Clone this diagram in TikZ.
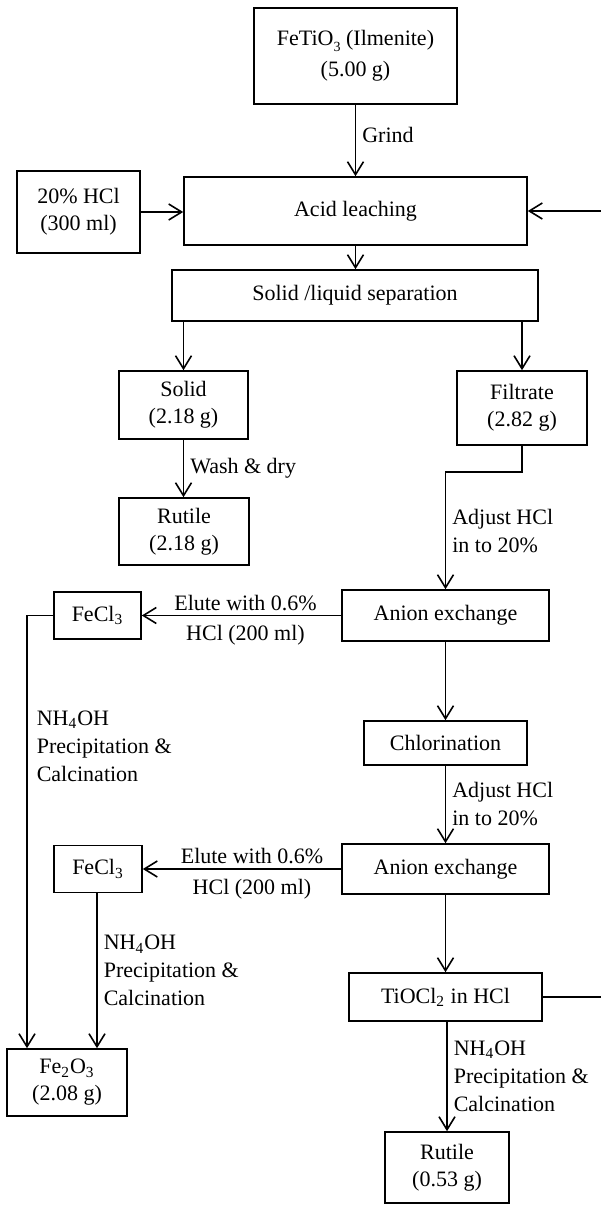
\documentclass[tikz,border=0pt]{standalone}
\usepackage{fontspec}
\setmainfont{Liberation Serif}
\usetikzlibrary{arrows.meta,positioning,calc}

\tikzset{
    procbox/.style 2 args={draw, line width=0.8pt, inner sep=0pt, align=center,
        minimum width=#1, minimum height=#2, font=\fontsize{11pt}{13.5pt}\selectfont},
    note/.style={inner sep=3pt, align=left, font=\fontsize{11pt}{14pt}\selectfont},
}

\begin{document}
\begin{tikzpicture}[x=0.5pt, y=-0.5pt, line width=0.8pt, >={Straight Barb[length=6.5pt,width=8pt]}]
    \useasboundingbox (0,0) rectangle (600,1205);

    % leaching and separation
    \node[procbox={101.5pt}{48pt}] (ore) at (355.5,56) {FeTiO\raisebox{-3pt}{\scriptsize 3} (Ilmenite)\\[2pt](5.00 g)};
    \node[procbox={61.5pt}{41pt}] (hcl) at (78.5,212) {20\% HCl\\(300 ml)};
    \node[procbox={171.5pt}{34pt}] (leach) at (355.5,211) {Acid leaching};
    \node[procbox={183pt}{25.5pt}] (sep) at (355,295.5) {Solid /liquid separation};
    \node[procbox={64.5pt}{34pt}] (solid) at (183.5,405) {Solid\\(2.18 g)};
    \node[procbox={65pt}{37pt}] (filtrate) at (522,408) {Filtrate\\(2.82 g)};
    \node[procbox={65pt}{33.5pt}] (rutileA) at (184,531.5) {Rutile\\(2.18 g)};

    % ion exchange
    \node[procbox={43.5pt}{23.5pt}] (fecl3A) at (97.5,615.5) {FeCl\textsubscript{3}};
    \node[procbox={103.5pt}{25.5pt}] (anionA) at (445.5,615.5) {Anion exchange};
    \node[procbox={81.5pt}{22pt}] (chlor) at (445.5,743) {Chlorination};
    \node[procbox={44pt}{23.5pt}] (fecl3B) at (98,869) {FeCl\textsubscript{3}};
    \node[procbox={103.5pt}{25pt}] (anionB) at (445.5,869) {Anion exchange};
    \node[procbox={96.5pt}{24pt}] (tiocl) at (445.5,997) {TiOCl\textsubscript{2} in HCl};

    % products
    \node[procbox={60pt}{33.5pt}] (fe2o3) at (67,1082.5) {Fe\textsubscript{2}O\textsubscript{3}\\(2.08 g)};
    \node[procbox={62pt}{35.5pt}] (rutileB) at (447,1167.5) {Rutile\\(0.53 g)};

    \coordinate (bend) at (445.5,472);
    \coordinate (leftrail) at (27,0);
    \coordinate (rightrail) at (604,0);

    \draw[->] (ore) -- node[note, right, pos=0.42] {Grind} (leach);
    \draw[->] (hcl.east) -- (hcl.east -| leach.west);
    \draw[->] (rightrail |- leach.east) -- (leach.east);
    \draw[->] (leach.south) -- (leach.south |- sep.north);
    \draw[->] (sep.south -| solid) -- (solid);
    \draw[->] (sep.south -| filtrate) -- (filtrate);
    \draw[->] (solid.south) -- node[note, right] {Wash \& dry} (solid.south |- rutileA.north);
    \draw[->] (filtrate.south) |- (bend) -- node[note, right] {Adjust HCl\\in to 20\%} (anionA.north);

    \draw[->] (anionA) -- node[note, above, inner sep=2pt, xshift=2pt] {Elute with 0.6\%}
        node[note, below, inner sep=4.5pt, xshift=2pt] {HCl (200 ml)} (fecl3A);
    \draw[->] (anionA) -- (chlor);
    \draw[->] (chlor) -- node[note, right] {Adjust HCl\\in to 20\%} (anionB);
    \draw[->] (anionB.west) -- node[note, above, inner sep=2pt, xshift=5pt] {Elute with 0.6\%}
        node[note, below, inner sep=4.5pt, xshift=5pt] {HCl (200 ml)} (anionB.west -| fecl3B.east);
    \draw[->] (anionB) -- (tiocl);
    \draw[->] (tiocl.south -| rutileB.north) -- node[note, right] {NH\textsubscript{4}OH\\Precipitation \&\\Calcination} (rutileB.north);
    \draw (tiocl.east) -| (rightrail |- leach.east);

    \draw[->] (fecl3A.west) -| (leftrail |- fe2o3.north);
    \node[note, anchor=west] (pcA) at (30,746) {NH\textsubscript{4}OH\\Precipitation \&\\Calcination};
    \draw[->] (fecl3B.south -| 97,0) -- node[note, right] {NH\textsubscript{4}OH\\Precipitation \&\\Calcination} (fe2o3.north -| 97,0);
\end{tikzpicture}
\end{document}
